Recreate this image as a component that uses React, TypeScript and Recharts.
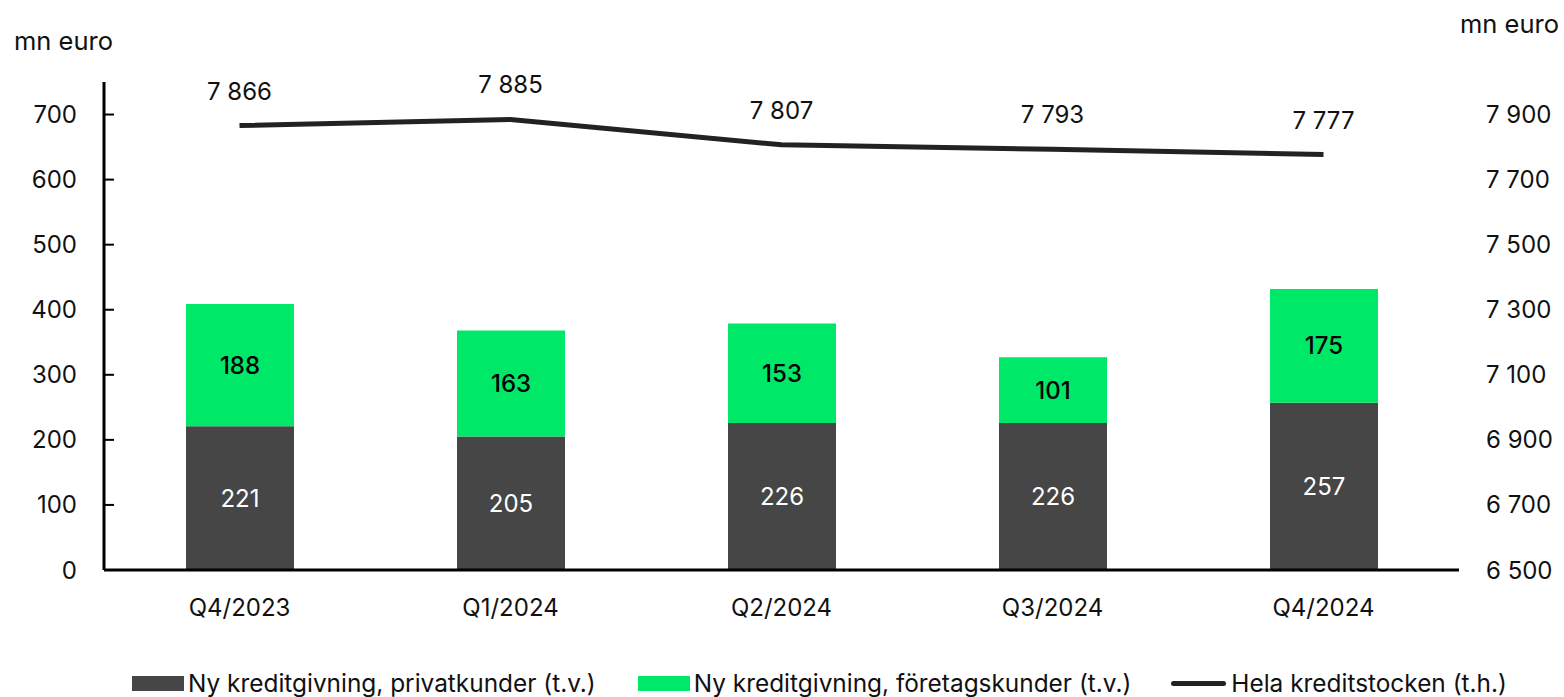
import React from "react";
import {
  ComposedChart,
  Bar,
  Line,
  XAxis,
  YAxis,
  Legend,
  LabelList,
} from "recharts";

document.body.style.margin = "0";

const quarters = ["Q4/2023", "Q1/2024", "Q2/2024", "Q3/2024", "Q4/2024"];
const privateLending = [221, 205, 226, 226, 257];
const corporateLending = [188, 163, 153, 101, 175];
const totalStock = [7866, 7885, 7807, 7793, 7777];

const leftTicks = [0, 100, 200, 300, 400, 500, 600, 700];
const rightTicks = [6500, 6700, 6900, 7100, 7300, 7500, 7700, 7900];

const data = quarters.map((q, i) => ({
  quarter: q,
  privat: privateLending[i],
  foretag: corporateLending[i],
  total: totalStock[i],
}));

const DARK = "#464646";
const GREEN = "#00E868";
const LINE = "#222222";
const FONT = "Inter, 'Noto Sans', sans-serif";

// 7866 -> "7 866"
const spaced = (v: unknown) =>
  String(v).replace(/\B(?=(\d{3})+(?!\d))/g, " ");

const legendItems = [
  { name: "Ny kreditgivning, privatkunder (t.v.)", color: DARK, type: "rect" },
  { name: "Ny kreditgivning, företagskunder (t.v.)", color: GREEN, type: "rect" },
  { name: "Hela kreditstocken (t.h.)", color: LINE, type: "line" },
];

function ChartLegend() {
  return (
    <div
      style={{
        display: "flex",
        alignItems: "center",
        height: 30,
        paddingLeft: 132,
        fontFamily: FONT,
        fontSize: 24.4,
        color: "#111",
        whiteSpace: "nowrap",
      }}
    >
      {legendItems.map((item, i) => (
        <div
          key={item.name}
          style={{
            display: "flex",
            alignItems: "center",
            marginRight: i === 0 ? 42 : 40,
          }}
        >
          {item.type === "rect" ? (
            <span
              style={{
                width: 52,
                height: 15,
                background: item.color,
                marginRight: 4,
                display: "inline-block",
              }}
            />
          ) : (
            <span
              style={{
                width: 55,
                height: 5,
                borderRadius: 3,
                background: item.color,
                marginRight: 5,
                display: "inline-block",
              }}
            />
          )}
          <span>{item.name}</span>
        </div>
      ))}
    </div>
  );
}

export default function App() {
  const tickStyle = { fill: "#111", fontSize: 24, fontFamily: FONT };

  return (
    <div style={{ position: "relative", width: 1564, height: 697, overflow: "hidden", background: "#fff" }}>
      <div
        style={{
          position: "absolute",
          left: 14,
          top: 25,
          fontFamily: FONT,
          fontSize: 25.5,
          color: "#111",
        }}
      >
        mn euro
      </div>
      <div
        style={{
          position: "absolute",
          left: 1460,
          top: 8,
          fontFamily: FONT,
          fontSize: 25.5,
          color: "#111",
        }}
      >
        mn euro
      </div>
      <ComposedChart
        width={1564}
        height={697}
        data={data}
        margin={{ top: 82, right: 0, bottom: 30, left: 0 }}
      >
        <XAxis
          dataKey="quarter"
          axisLine={{ stroke: "#000", strokeWidth: 3 }}
          tickLine={false}
          tick={tickStyle}
          tickMargin={23}
          height={67}
        />
        <YAxis
          yAxisId="left"
          orientation="left"
          domain={[0, 750]}
          ticks={leftTicks}
          width={104}
          axisLine={{ stroke: "#000", strokeWidth: 3 }}
          tickLine={{ stroke: "#000", strokeWidth: 2 }}
          tickSize={-10}
          tickMargin={37}
          tick={tickStyle}
          allowDataOverflow
        />
        <YAxis
          yAxisId="right"
          orientation="right"
          domain={[6500, 8000]}
          ticks={rightTicks}
          width={105}
          axisLine={false}
          tickLine={false}
          tickSize={0}
          tickMargin={27}
          tick={tickStyle}
          tickFormatter={spaced}
          allowDataOverflow
        />
        <Legend
          verticalAlign="bottom"
          content={<ChartLegend />}
          wrapperStyle={{ top: 668, left: 0, width: 1564, height: 30 }}
        />
        <Bar
          yAxisId="left"
          dataKey="privat"
          stackId="a"
          fill={DARK}
          barSize={108}
          isAnimationActive={false}
        >
          <LabelList
            dataKey="privat"
            position="center"
            fill="#fff"
            fontSize={24}
            fontFamily={FONT}
          />
        </Bar>
        <Bar
          yAxisId="left"
          dataKey="foretag"
          stackId="a"
          fill={GREEN}
          barSize={108}
          isAnimationActive={false}
        >
          <LabelList
            dataKey="foretag"
            position="center"
            fill="#000"
            fontSize={24}
            fontWeight={500}
            fontFamily={FONT}
          />
        </Bar>
        <Line
          yAxisId="right"
          dataKey="total"
          type="linear"
          stroke={LINE}
          strokeWidth={5}
          dot={false}
          activeDot={false}
          isAnimationActive={false}
        >
          <LabelList
            dataKey="total"
            position="top"
            offset={26}
            fill="#111"
            fontSize={24}
            fontFamily={FONT}
            formatter={spaced}
          />
        </Line>
      </ComposedChart>
    </div>
  );
}
